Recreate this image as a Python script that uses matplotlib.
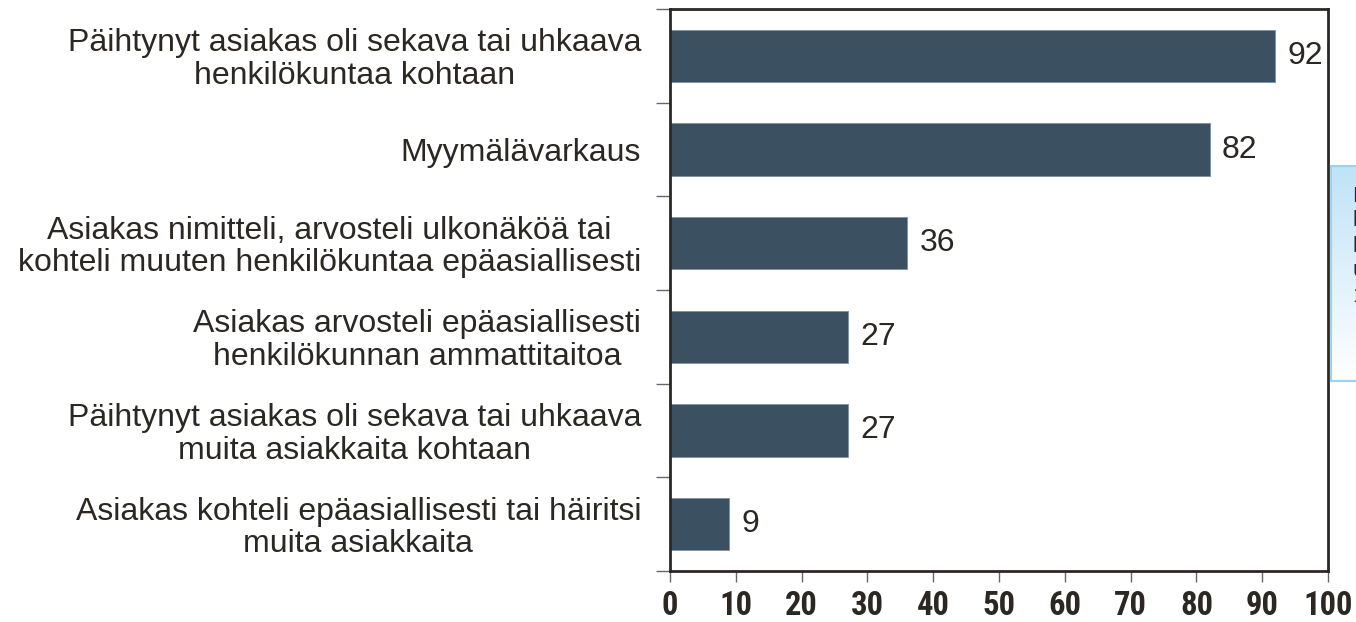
import matplotlib
matplotlib.use("Agg")
import matplotlib.pyplot as plt
import numpy as np
from matplotlib.colors import LinearSegmentedColormap

categories = [
    "Päihtynyt asiakas oli sekava tai uhkaava\nhenkilökuntaa kohtaan",
    "Myymälävarkaus",
    "Asiakas nimitteli, arvosteli ulkonäköä tai\nkohteli muuten henkilökuntaa epäasiallisesti",
    "Asiakas arvosteli epäasiallisesti\nhenkilökunnan ammattitaitoa",
    "Päihtynyt asiakas oli sekava tai uhkaava\nmuita asiakkaita kohtaan",
    "Asiakas kohteli epäasiallisesti tai häiritsi\nmuita asiakkaita",
]
values = [92, 82, 36, 27, 27, 9]
xticks = [0, 10, 20, 30, 40, 50, 60, 70, 80, 90, 100]
side_note = ["M", "k", "h", "u", "1"]

fam = ["Liberation Sans", "DejaVu Sans"]
tick_fam = ["Roboto Condensed", "Liberation Sans", "DejaVu Sans"]
bar_color = "#3B5060"
text_color = "#2B2722"

fig = plt.figure(figsize=(13.56, 6.22), dpi=100)
ax = fig.add_axes([670 / 1356, 1 - 571 / 622, (1328 - 670) / 1356, (571 - 9) / 622])

y = np.arange(len(values))
ax.barh(y, values, height=0.56, color=bar_color, edgecolor="#7F909C", linewidth=0.6)
ax.set_ylim(len(values) - 0.5, -0.5)
ax.set_xlim(0, 100)

ax.set_yticks(np.arange(len(values) + 1) - 0.5)
ax.set_yticklabels([])
ax.tick_params(axis="y", length=10, width=1.0, color="#666666", direction="out")
ax.set_xticks(xticks)
ax.set_xticklabels([str(t) for t in xticks], fontsize=23.5, fontweight="bold",
                   family=tick_fam, color=text_color)
ax.tick_params(axis="x", length=8, width=1.0, color="#666666", direction="out", pad=6)

for s in ax.spines.values():
    s.set_color(text_color)
    s.set_linewidth(2.0)

for yi, lab in zip(y, categories):
    ax.text(-29 / 658 * 100, yi + 0.04, lab, ha="right", va="center", multialignment="center",
            fontsize=23, family=fam, color=text_color, linespacing=1.12,
            clip_on=False)

for yi, v in zip(y, values):
    ax.text(v + 1.9, yi, str(v), ha="left", va="center", fontsize=23,
            family=fam, color=text_color, clip_on=False)

# partially visible note box at the right edge
nax = fig.add_axes([1331 / 1356, 1 - 381 / 622, 0.05, (381 - 166) / 622])
grad = np.linspace(0, 1, 100).reshape(-1, 1)
cmap = LinearSegmentedColormap.from_list("g", ["#BFE3F7", "#FFFFFF"])
nax.imshow(grad, aspect="auto", cmap=cmap, extent=[0, 1, 1, 0])
nax.set_xticks([])
nax.set_yticks([])
for s in nax.spines.values():
    s.set_color("#9ED3F0")
    s.set_linewidth(1.5)
for i, ch in enumerate(side_note):
    fig.text(1352 / 1356, 1 - (196 + i * 25) / 622, ch, fontsize=16,
             family=fam, color=text_color, va="center", ha="left")

fig.savefig("out.png", dpi=100)
